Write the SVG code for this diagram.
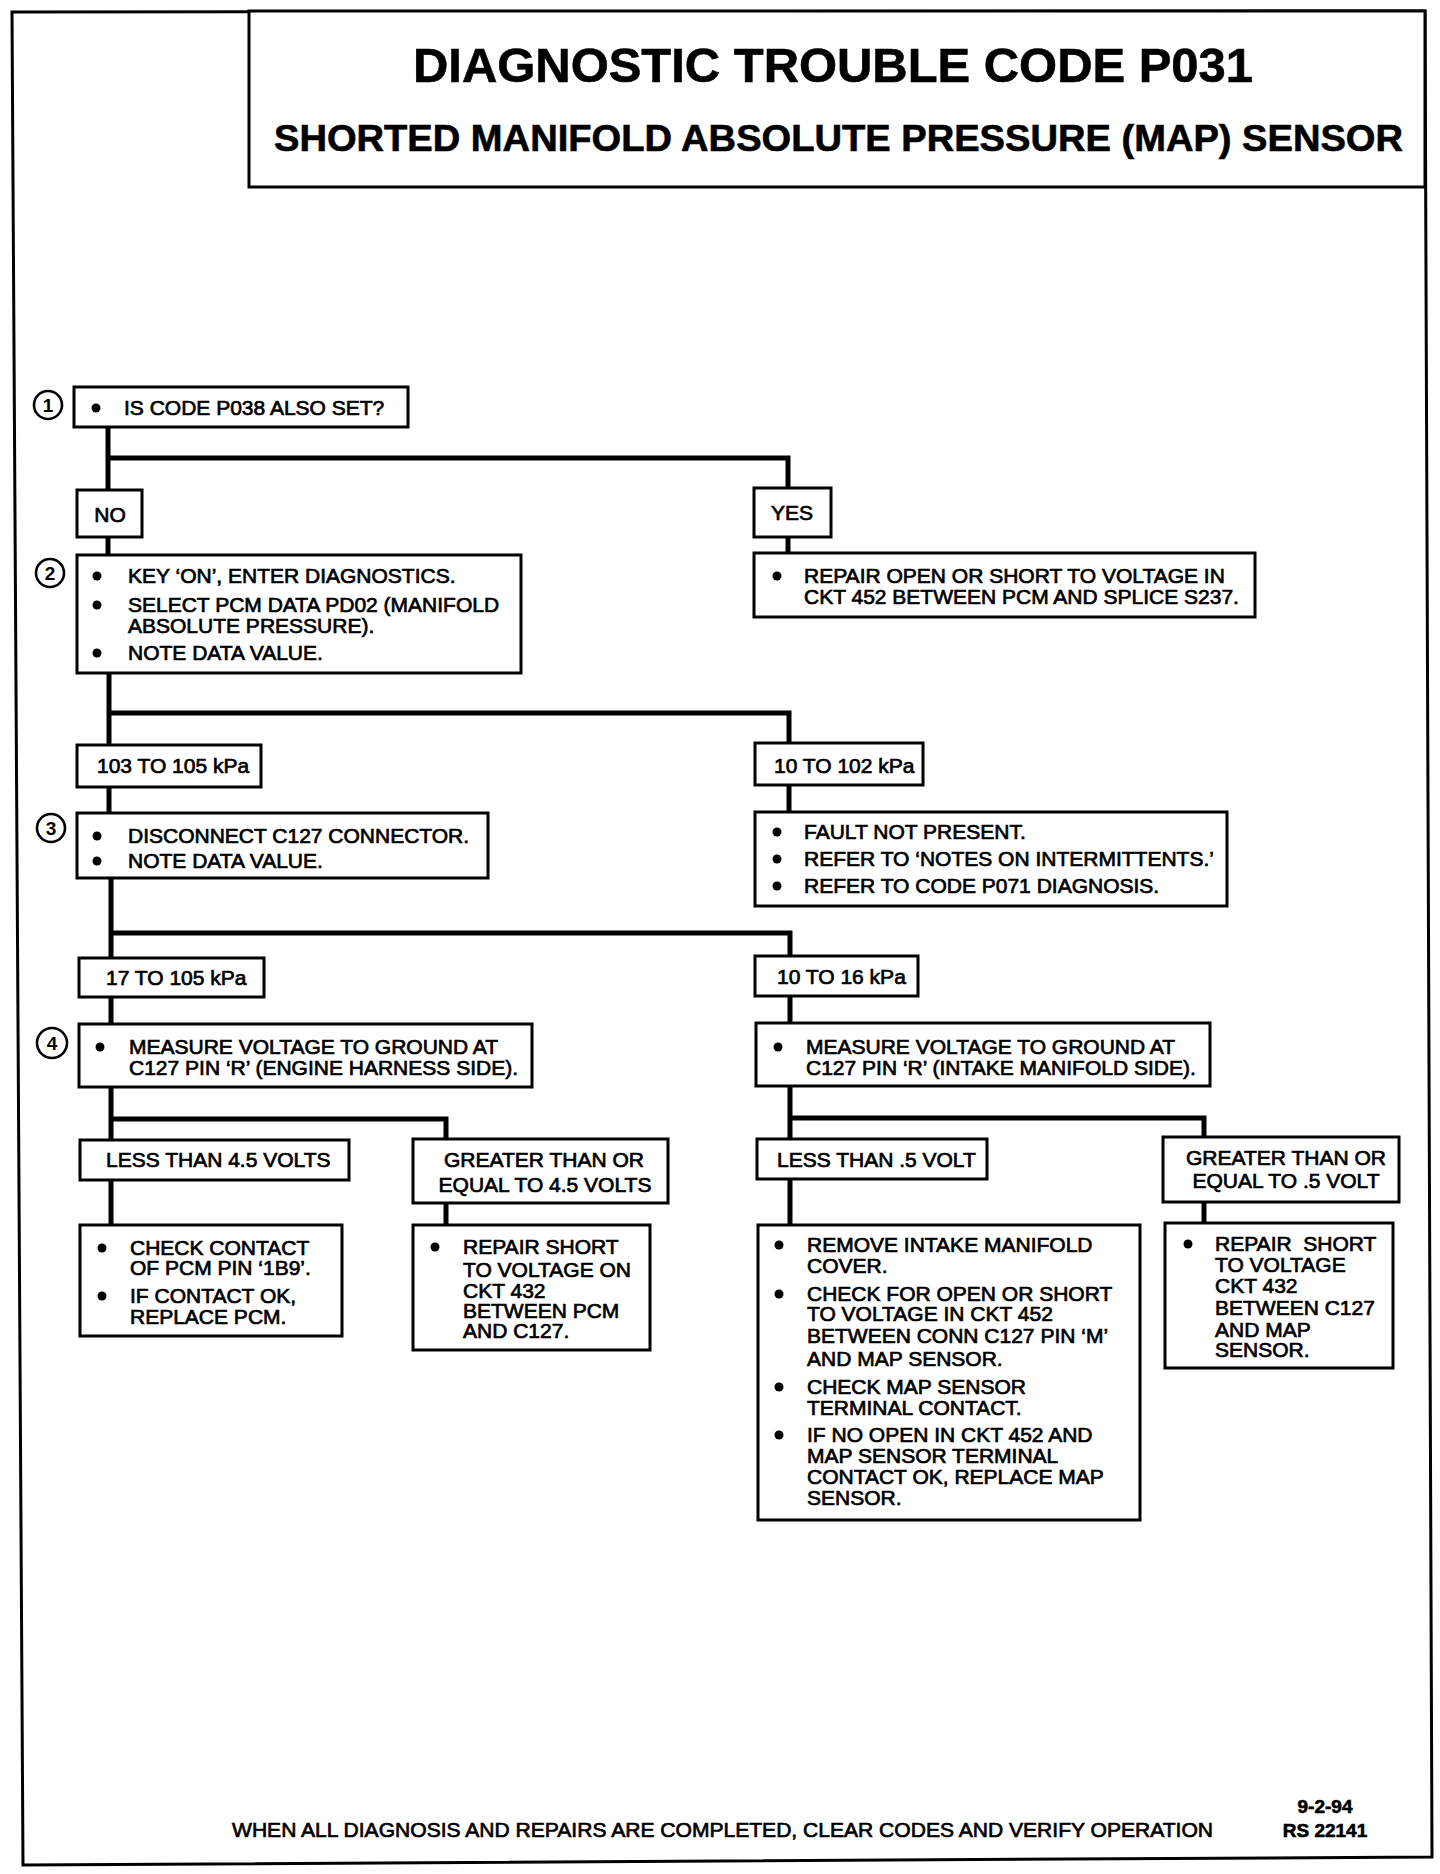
<svg xmlns="http://www.w3.org/2000/svg" width="1440" height="1874" viewBox="0 0 1440 1874">
<style>
  .box { fill: #fff; stroke: #000; stroke-width: 3; }
  .con { fill: none; stroke: #000; stroke-width: 5; stroke-linejoin: miter; stroke-linecap: square; }
  .t { font-family: "Liberation Sans", Arial, Helvetica, sans-serif; font-size: 21px; fill: #000; stroke: #000; stroke-width: 0.7; }
  .c { text-anchor: middle; }
  .title { font-family: "Liberation Sans", Arial, Helvetica, sans-serif; font-weight: bold; fill: #000; stroke: #000; stroke-width: 0.6; }
  .num { font-family: "Liberation Sans", Arial, Helvetica, sans-serif; font-size: 19px; font-weight: bold; text-anchor: middle; fill: #000; }
  .circ { fill: #fff; stroke: #000; stroke-width: 2.6; }
  .dot { fill: #000; }
</style>
<rect width="1440" height="1874" fill="#fff"/>

<g id="frame">
  <polygon points="12,12 1425,11 1432,1857 23,1865" fill="none" stroke="#000" stroke-width="3"/>
</g>

<g id="title">
  <rect class="box" x="249" y="11" width="1176" height="176"/>
  <text class="title" x="413" y="82" font-size="48" textLength="840" lengthAdjust="spacingAndGlyphs">DIAGNOSTIC TROUBLE CODE P031</text>
  <text class="title" x="274" y="151" font-size="36" textLength="1129" lengthAdjust="spacingAndGlyphs">SHORTED MANIFOLD ABSOLUTE PRESSURE (MAP) SENSOR</text>
</g>

<g id="connectors">
  <path class="con" d="M108,427 V490 M108,458 H788 V488"/>
  <path class="con" d="M108,537 V555"/>
  <path class="con" d="M788,537 V553"/>
  <path class="con" d="M109,673 V745 M109,713 H789 V743"/>
  <path class="con" d="M109,787 V813"/>
  <path class="con" d="M789,785 V812"/>
  <path class="con" d="M111,878 V958 M111,933 H790 V956"/>
  <path class="con" d="M111,997 V1024"/>
  <path class="con" d="M790,996 V1023"/>
  <path class="con" d="M111,1087 V1140 M111,1119 H446 V1139"/>
  <path class="con" d="M790,1086 V1139 M790,1118 H1204 V1137"/>
  <path class="con" d="M111,1180 V1225"/>
  <path class="con" d="M446,1203 V1225"/>
  <path class="con" d="M790,1179 V1225"/>
  <path class="con" d="M1204,1202 V1223"/>
</g>

<g id="step1">
  <circle class="circ" cx="48" cy="405" r="14"/>
  <text class="num" x="48" y="412" font-weight="normal">1</text>
  <rect class="box" x="74" y="387" width="334" height="40"/>
  <circle class="dot" cx="96" cy="408" r="4.5"/>
  <text class="t" x="124" y="415">IS CODE P038 ALSO SET?</text>
</g>

<g id="no">
  <rect class="box" x="77" y="490" width="65" height="47"/>
  <text class="t c" x="110" y="522">NO</text>
</g>

<g id="yes">
  <rect class="box" x="754" y="488" width="77" height="49"/>
  <text class="t c" x="792" y="520">YES</text>
</g>

<g id="repair-s237">
  <rect class="box" x="754" y="553" width="501" height="64"/>
  <circle class="dot" cx="777" cy="576" r="4.5"/>
  <text class="t" x="804" y="583">REPAIR OPEN OR SHORT TO VOLTAGE IN</text>
  <text class="t" x="804" y="604">CKT 452 BETWEEN PCM AND SPLICE S237.</text>
</g>

<g id="step2">
  <circle class="circ" cx="50" cy="573" r="14"/>
  <text class="num" x="50" y="580">2</text>
  <rect class="box" x="77" y="555" width="444" height="118"/>
  <circle class="dot" cx="97" cy="576" r="4.5"/>
  <text class="t" x="128" y="583">KEY ‘ON’, ENTER DIAGNOSTICS.</text>
  <circle class="dot" cx="97" cy="605" r="4.5"/>
  <text class="t" x="128" y="612">SELECT PCM DATA PD02 (MANIFOLD</text>
  <text class="t" x="128" y="633">ABSOLUTE PRESSURE).</text>
  <circle class="dot" cx="97" cy="653" r="4.5"/>
  <text class="t" x="128" y="660">NOTE DATA VALUE.</text>
</g>

<g id="r103-105">
  <rect class="box" x="77" y="745" width="184" height="42"/>
  <text class="t" x="97" y="773">103 TO 105 kPa</text>
</g>

<g id="r10-102">
  <rect class="box" x="755" y="743" width="168" height="42"/>
  <text class="t" x="774" y="773">10 TO 102 kPa</text>
</g>

<g id="step3">
  <circle class="circ" cx="51" cy="828" r="14"/>
  <text class="num" x="51" y="835">3</text>
  <rect class="box" x="77" y="813" width="411" height="65"/>
  <circle class="dot" cx="97" cy="836" r="4.5"/>
  <text class="t" x="128" y="843">DISCONNECT C127 CONNECTOR.</text>
  <circle class="dot" cx="97" cy="861" r="4.5"/>
  <text class="t" x="128" y="868">NOTE DATA VALUE.</text>
</g>

<g id="fault">
  <rect class="box" x="755" y="812" width="472" height="94"/>
  <circle class="dot" cx="777" cy="832" r="4.5"/>
  <text class="t" x="804" y="839">FAULT NOT PRESENT.</text>
  <circle class="dot" cx="777" cy="859" r="4.5"/>
  <text class="t" x="804" y="866">REFER TO ‘NOTES ON INTERMITTENTS.’</text>
  <circle class="dot" cx="777" cy="886" r="4.5"/>
  <text class="t" x="804" y="893">REFER TO CODE P071 DIAGNOSIS.</text>
</g>

<g id="r17-105">
  <rect class="box" x="79" y="958" width="185" height="39"/>
  <text class="t" x="106" y="985">17 TO 105 kPa</text>
</g>

<g id="r10-16">
  <rect class="box" x="755" y="956" width="163" height="40"/>
  <text class="t" x="777" y="984">10 TO 16 kPa</text>
</g>

<g id="step4">
  <circle class="circ" cx="52" cy="1043" r="15"/>
  <text class="num" x="52" y="1050">4</text>
  <rect class="box" x="79" y="1024" width="453" height="63"/>
  <circle class="dot" cx="100" cy="1047" r="4.5"/>
  <text class="t" x="129" y="1054">MEASURE VOLTAGE TO GROUND AT</text>
  <text class="t" x="129" y="1075">C127 PIN ‘R’ (ENGINE HARNESS SIDE).</text>
</g>

<g id="measure-intake">
  <rect class="box" x="756" y="1023" width="454" height="63"/>
  <circle class="dot" cx="778" cy="1047" r="4.5"/>
  <text class="t" x="806" y="1054">MEASURE VOLTAGE TO GROUND AT</text>
  <text class="t" x="806" y="1075">C127 PIN ‘R’ (INTAKE MANIFOLD SIDE).</text>
</g>

<g id="less45">
  <rect class="box" x="80" y="1140" width="269" height="40"/>
  <text class="t" x="106" y="1167">LESS THAN 4.5 VOLTS</text>
</g>

<g id="greater45">
  <rect class="box" x="413" y="1139" width="255" height="64"/>
  <text class="t c" x="544" y="1167">GREATER THAN OR</text>
  <text class="t c" x="545" y="1192">EQUAL TO 4.5 VOLTS</text>
</g>

<g id="less05">
  <rect class="box" x="757" y="1139" width="230" height="40"/>
  <text class="t" x="777" y="1167">LESS THAN .5 VOLT</text>
</g>

<g id="greater05">
  <rect class="box" x="1163" y="1137" width="236" height="65"/>
  <text class="t c" x="1286" y="1165">GREATER THAN OR</text>
  <text class="t c" x="1286" y="1188">EQUAL TO .5 VOLT</text>
</g>

<g id="check-pcm">
  <rect class="box" x="80" y="1225" width="262" height="111"/>
  <circle class="dot" cx="102" cy="1248" r="4.5"/>
  <text class="t" x="130" y="1255">CHECK CONTACT</text>
  <text class="t" x="130" y="1275">OF PCM PIN ‘1B9’.</text>
  <circle class="dot" cx="102" cy="1296" r="4.5"/>
  <text class="t" x="130" y="1303">IF CONTACT OK,</text>
  <text class="t" x="130" y="1324">REPLACE PCM.</text>
</g>

<g id="repair-pcm-c127">
  <rect class="box" x="413" y="1225" width="237" height="125"/>
  <circle class="dot" cx="435" cy="1247" r="4.5"/>
  <text class="t" x="463" y="1254">REPAIR SHORT</text>
  <text class="t" x="463" y="1277">TO VOLTAGE ON</text>
  <text class="t" x="463" y="1298">CKT 432</text>
  <text class="t" x="463" y="1318">BETWEEN PCM</text>
  <text class="t" x="463" y="1338">AND C127.</text>
</g>

<g id="remove-cover">
  <rect class="box" x="758" y="1225" width="382" height="295"/>
  <circle class="dot" cx="779" cy="1245" r="4.5"/>
  <text class="t" x="807" y="1252">REMOVE INTAKE MANIFOLD</text>
  <text class="t" x="807" y="1273">COVER.</text>
  <circle class="dot" cx="779" cy="1294" r="4.5"/>
  <text class="t" x="807" y="1301">CHECK FOR OPEN OR SHORT</text>
  <text class="t" x="807" y="1321">TO VOLTAGE IN CKT 452</text>
  <text class="t" x="807" y="1343">BETWEEN CONN C127 PIN ‘M’</text>
  <text class="t" x="807" y="1366">AND MAP SENSOR.</text>
  <circle class="dot" cx="779" cy="1387" r="4.5"/>
  <text class="t" x="807" y="1394">CHECK MAP SENSOR</text>
  <text class="t" x="807" y="1415">TERMINAL CONTACT.</text>
  <circle class="dot" cx="779" cy="1435" r="4.5"/>
  <text class="t" x="807" y="1442">IF NO OPEN IN CKT 452 AND</text>
  <text class="t" x="807" y="1463">MAP SENSOR TERMINAL</text>
  <text class="t" x="807" y="1484">CONTACT OK, REPLACE MAP</text>
  <text class="t" x="807" y="1505">SENSOR.</text>
</g>

<g id="repair-c127-map">
  <rect class="box" x="1165" y="1223" width="228" height="145"/>
  <circle class="dot" cx="1188" cy="1244" r="4.5"/>
  <text class="t" x="1215" y="1251" xml:space="preserve">REPAIR  SHORT</text>
  <text class="t" x="1215" y="1272">TO VOLTAGE</text>
  <text class="t" x="1215" y="1293">CKT 432</text>
  <text class="t" x="1215" y="1315">BETWEEN C127</text>
  <text class="t" x="1215" y="1337">AND MAP</text>
  <text class="t" x="1215" y="1357">SENSOR.</text>
</g>

<g id="footer">
  <text class="t" x="232" y="1837" font-size="20" textLength="981" lengthAdjust="spacingAndGlyphs">WHEN ALL DIAGNOSIS AND REPAIRS ARE COMPLETED, CLEAR CODES AND VERIFY OPERATION</text>
  <text class="title" x="1325" y="1813" font-size="19" text-anchor="middle">9-2-94</text>
  <text class="title" x="1325" y="1837" font-size="19" text-anchor="middle">RS 22141</text>
</g>
</svg>
